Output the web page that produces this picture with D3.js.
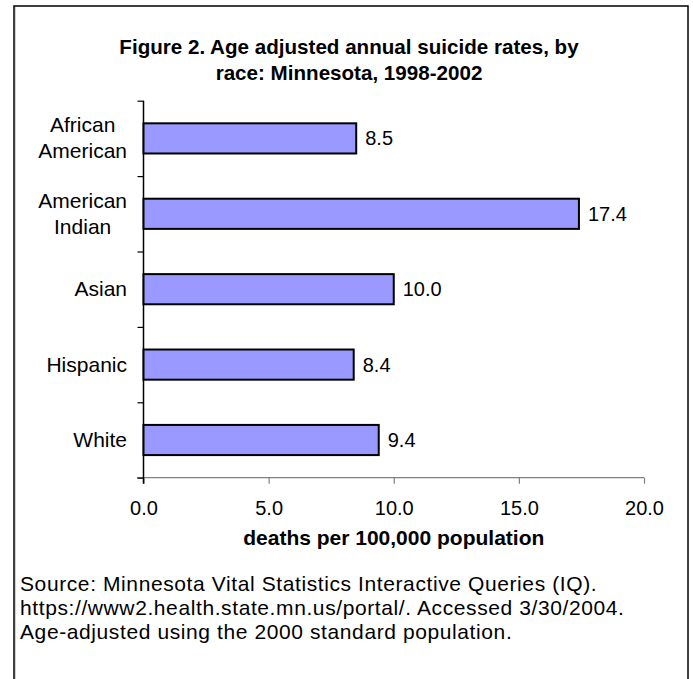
<!DOCTYPE html>
<html>
<head>
<meta charset="utf-8">
<script src="https://cdn.jsdelivr.net/npm/d3@7"></script>
<style>
  body { margin: 0; background: #fff; }
  svg text { font-family: "Liberation Sans", Arial, sans-serif; fill: #000; }
</style>
</head>
<body>
<div id="chart"></div>
<script>
// datos
const races = ["African American", "American Indian", "Asian", "Hispanic", "White"];
const rates = [8.5, 17.4, 10.0, 8.4, 9.4];
const xTicks = [0, 5, 10, 15, 20];
const titleLines = ["Figure 2. Age adjusted annual suicide rates, by", "race: Minnesota, 1998-2002"];
const xTitle = "deaths per 100,000 population";
const sourceLines = [
  "Source:  Minnesota Vital Statistics Interactive Queries (IQ).",
  "https://www2.health.state.mn.us/portal/. Accessed 3/30/2004.",
  "Age-adjusted using the 2000 standard population."
];

const W = 693, H = 679;
const plot = { left: 143.5, right: 644, top: 100.7, bottom: 477.7 };

const svg = d3.select("#chart").append("svg")
    .attr("width", W)
    .attr("height", H);

// marco exterior
svg.append("line").attr("x1", 15.5).attr("x2", 15.5).attr("y1", 7).attr("y2", H)
    .attr("stroke", "#d0d0d0").attr("stroke-width", 1);
svg.append("rect")
    .attr("x", 14).attr("y", 6)
    .attr("width", 674).attr("height", 700)
    .attr("fill", "none").attr("stroke", "#000").attr("stroke-width", 1.5);

// título
svg.append("g").selectAll("text")
    .data(titleLines)
    .join("text")
    .attr("x", 349)
    .attr("y", (d, i) => 54 + i * 26)
    .attr("text-anchor", "middle")
    .attr("font-size", 20.6)
    .attr("font-weight", "bold")
    .text(d => d);

// escalas
const x = d3.scaleLinear().domain([0, 20]).range([plot.left, plot.right]);
const y = d3.scaleBand().domain(races).range([plot.top, plot.bottom]).paddingInner(0.6).paddingOuter(0.3);
const yEdge = d3.scaleLinear().domain([0, races.length]).range([plot.top, plot.bottom]);

// eje X
const gx = svg.append("g")
    .attr("transform", `translate(0,${plot.bottom})`)
    .call(d3.axisBottom(x).tickValues(xTicks).tickSize(6).tickSizeOuter(0).tickFormat(d3.format(".1f")));
gx.select(".domain").remove();
gx.append("line")
    .attr("x1", plot.left - 6.5).attr("x2", plot.right)
    .attr("stroke", "#808080").attr("stroke-width", 1.2);
gx.selectAll(".tick line").attr("stroke", "#808080").attr("stroke-width", 1.2);
gx.selectAll(".tick text")
    .attr("font-size", 20)
    .attr("font-family", "Liberation Sans, Arial, sans-serif")
    .attr("dy", null)
    .attr("y", 37);

svg.append("text")
    .attr("x", (plot.left + plot.right) / 2)
    .attr("y", 545)
    .attr("text-anchor", "middle")
    .attr("font-size", 21)
    .attr("font-weight", "bold")
    .text(xTitle);

// eje Y (marcas entre categorías)
const gy = svg.append("g")
    .attr("transform", `translate(${plot.left},0)`)
    .call(d3.axisLeft(yEdge).tickValues(d3.range(races.length + 1)).tickSize(6).tickSizeOuter(0).tickFormat(""));
gy.select(".domain").remove();
gy.selectAll(".tick line").attr("stroke", "#000").attr("stroke-width", 1.2);
gy.append("line")
    .attr("y1", plot.top).attr("y2", plot.bottom + 6)
    .attr("stroke", "#000").attr("stroke-width", 1.5);

// etiquetas de categoría
races.forEach(r => {
  const words = r.split(" ");
  const lines = words.length > 1 ? words : [r];
  const cy = y(r) + y.bandwidth() / 2;
  const g = svg.append("g");
  const t = g.selectAll("text")
      .data(lines)
      .join("text")
      .attr("font-size", 21)
      .attr("text-anchor", "middle")
      .attr("y", (d, i) => cy + 7 + (i - (lines.length - 1) / 2) * 26)
      .text(d => d);
  const maxW = d3.max(t.nodes(), n => n.getComputedTextLength());
  t.attr("x", 127 - maxW / 2);
});

// barras
svg.append("g").selectAll("rect")
    .data(rates)
    .join("rect")
    .attr("x", x(0))
    .attr("y", (d, i) => y(races[i]))
    .attr("width", d => x(d) - x(0))
    .attr("height", y.bandwidth())
    .attr("fill", "#9999ff")
    .attr("stroke", "#000")
    .attr("stroke-width", 2);

// valores
svg.append("g").selectAll("text")
    .data(rates)
    .join("text")
    .attr("x", d => x(d) + 9)
    .attr("y", (d, i) => y(races[i]) + y.bandwidth() / 2 + 7)
    .attr("font-size", 20)
    .text(d => d3.format(".1f")(d));

// fuente
svg.append("g").selectAll("text")
    .data(sourceLines)
    .join("text")
    .attr("x", 20)
    .attr("y", (d, i) => 591 + i * 24)
    .attr("font-size", 21)
    .attr("letter-spacing", 0.6)
    .text(d => d);
</script>
</body>
</html>
